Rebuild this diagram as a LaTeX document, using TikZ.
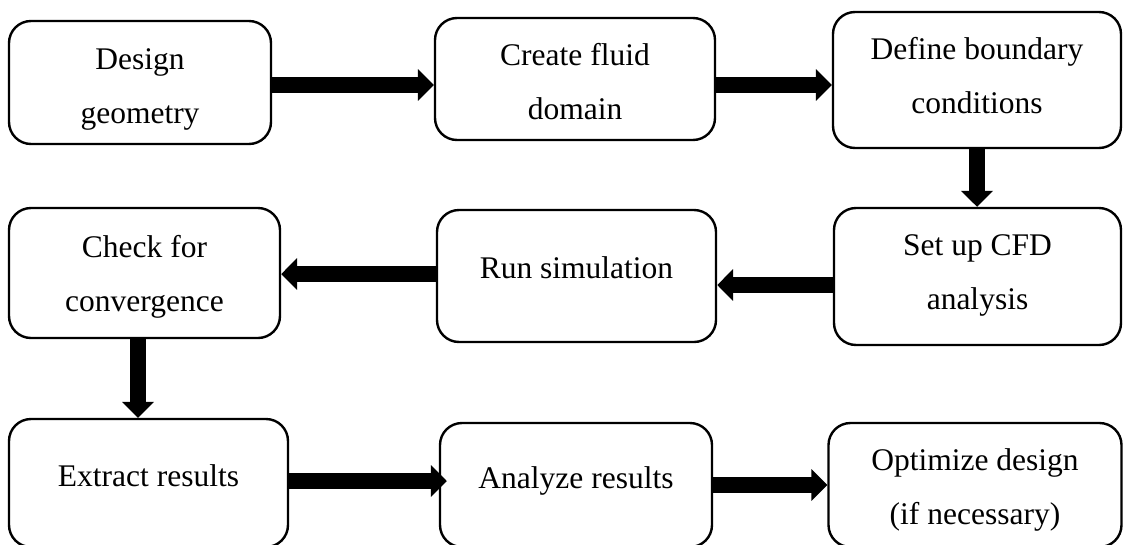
\documentclass[tikz,border=0pt]{standalone}
\usepackage{fontspec}
\setmainfont{Liberation Serif}
\usetikzlibrary{arrows.meta,calc}
\begin{document}
\begin{tikzpicture}[x=1pt,y=-1pt,
  stepbox/.style={draw=black, line width=2.4pt, rounded corners=22pt, fill=white, inner sep=0pt},
  lbl/.style={anchor=base, align=center, inner sep=0pt, font=\fontsize{31.5}{54}\selectfont},
  flow/.style={line width=15.5pt, -{Triangle[length=16pt,width=31pt]}}]
\useasboundingbox[fill=white] (0,0) rectangle (1124,544);

% process steps
\node[stepbox, minimum width=262pt, minimum height=123pt] (b1) at (140,82.5) {};
\node[stepbox, minimum width=280pt, minimum height=122pt] (b2) at (575,79) {};
\node[stepbox, minimum width=288pt, minimum height=136pt] (b3) at (977,80) {};
\node[stepbox, minimum width=287pt, minimum height=137pt] (b4) at (977.5,276.5) {};
\node[stepbox, minimum width=279pt, minimum height=132pt] (b5) at (576.5,276) {};
\node[stepbox, minimum width=271pt, minimum height=130pt] (b6) at (144.5,273) {};
\node[stepbox, minimum width=279pt, minimum height=128pt] (b7) at (148.5,483) {};
\node[stepbox, minimum width=272pt, minimum height=124pt] (b8) at (576,485) {};
\node[stepbox, minimum width=293pt, minimum height=124pt] (b9) at (975,485) {};

% step texts (anchored at the baseline of the last line)
\node[lbl] (t1) at (140,123) {Design\\geometry};
\node[lbl] (t2) at (575,119) {Create fluid\\domain};
\node[lbl] (t3) at (977,113) {Define boundary\\conditions};
\node[lbl] (t4) at (977.5,309) {Set up CFD\\analysis};
\node[lbl] (t5) at (576.5,278) {Run simulation};
\node[lbl] (t6) at (144.5,311) {Check for\\convergence};
\node[lbl] (t7) at (148.5,486) {Extract results};
\node[lbl] (t8) at (576,488) {Analyze results};
\node[lbl] (t9) at (975,524) {Optimize design\\(if necessary)};

% connectors
\draw[flow] (b1.east |- 0,85) -- (b2.west |- 0,85);
\draw[flow] (b2.east |- 0,85) -- (b3.west |- 0,85);
\draw[flow] (b3.south) -- (b3.south |- b4.north);
\draw[flow] (b4.west |- 0,285) -- (b5.east |- 0,285);
\draw[flow] (b5.west |- 0,274) -- (b6.east |- 0,274);
\draw[flow] (b6.south -| 138,0) -- (b7.north -| 138,0);
\draw[flow, shorten >=-8pt] (b7.east |- 0,481) -- (b8.west |- 0,481);
\draw[flow] (b8.east |- 0,485) -- (b9.west |- 0,485);
\end{tikzpicture}
\end{document}
